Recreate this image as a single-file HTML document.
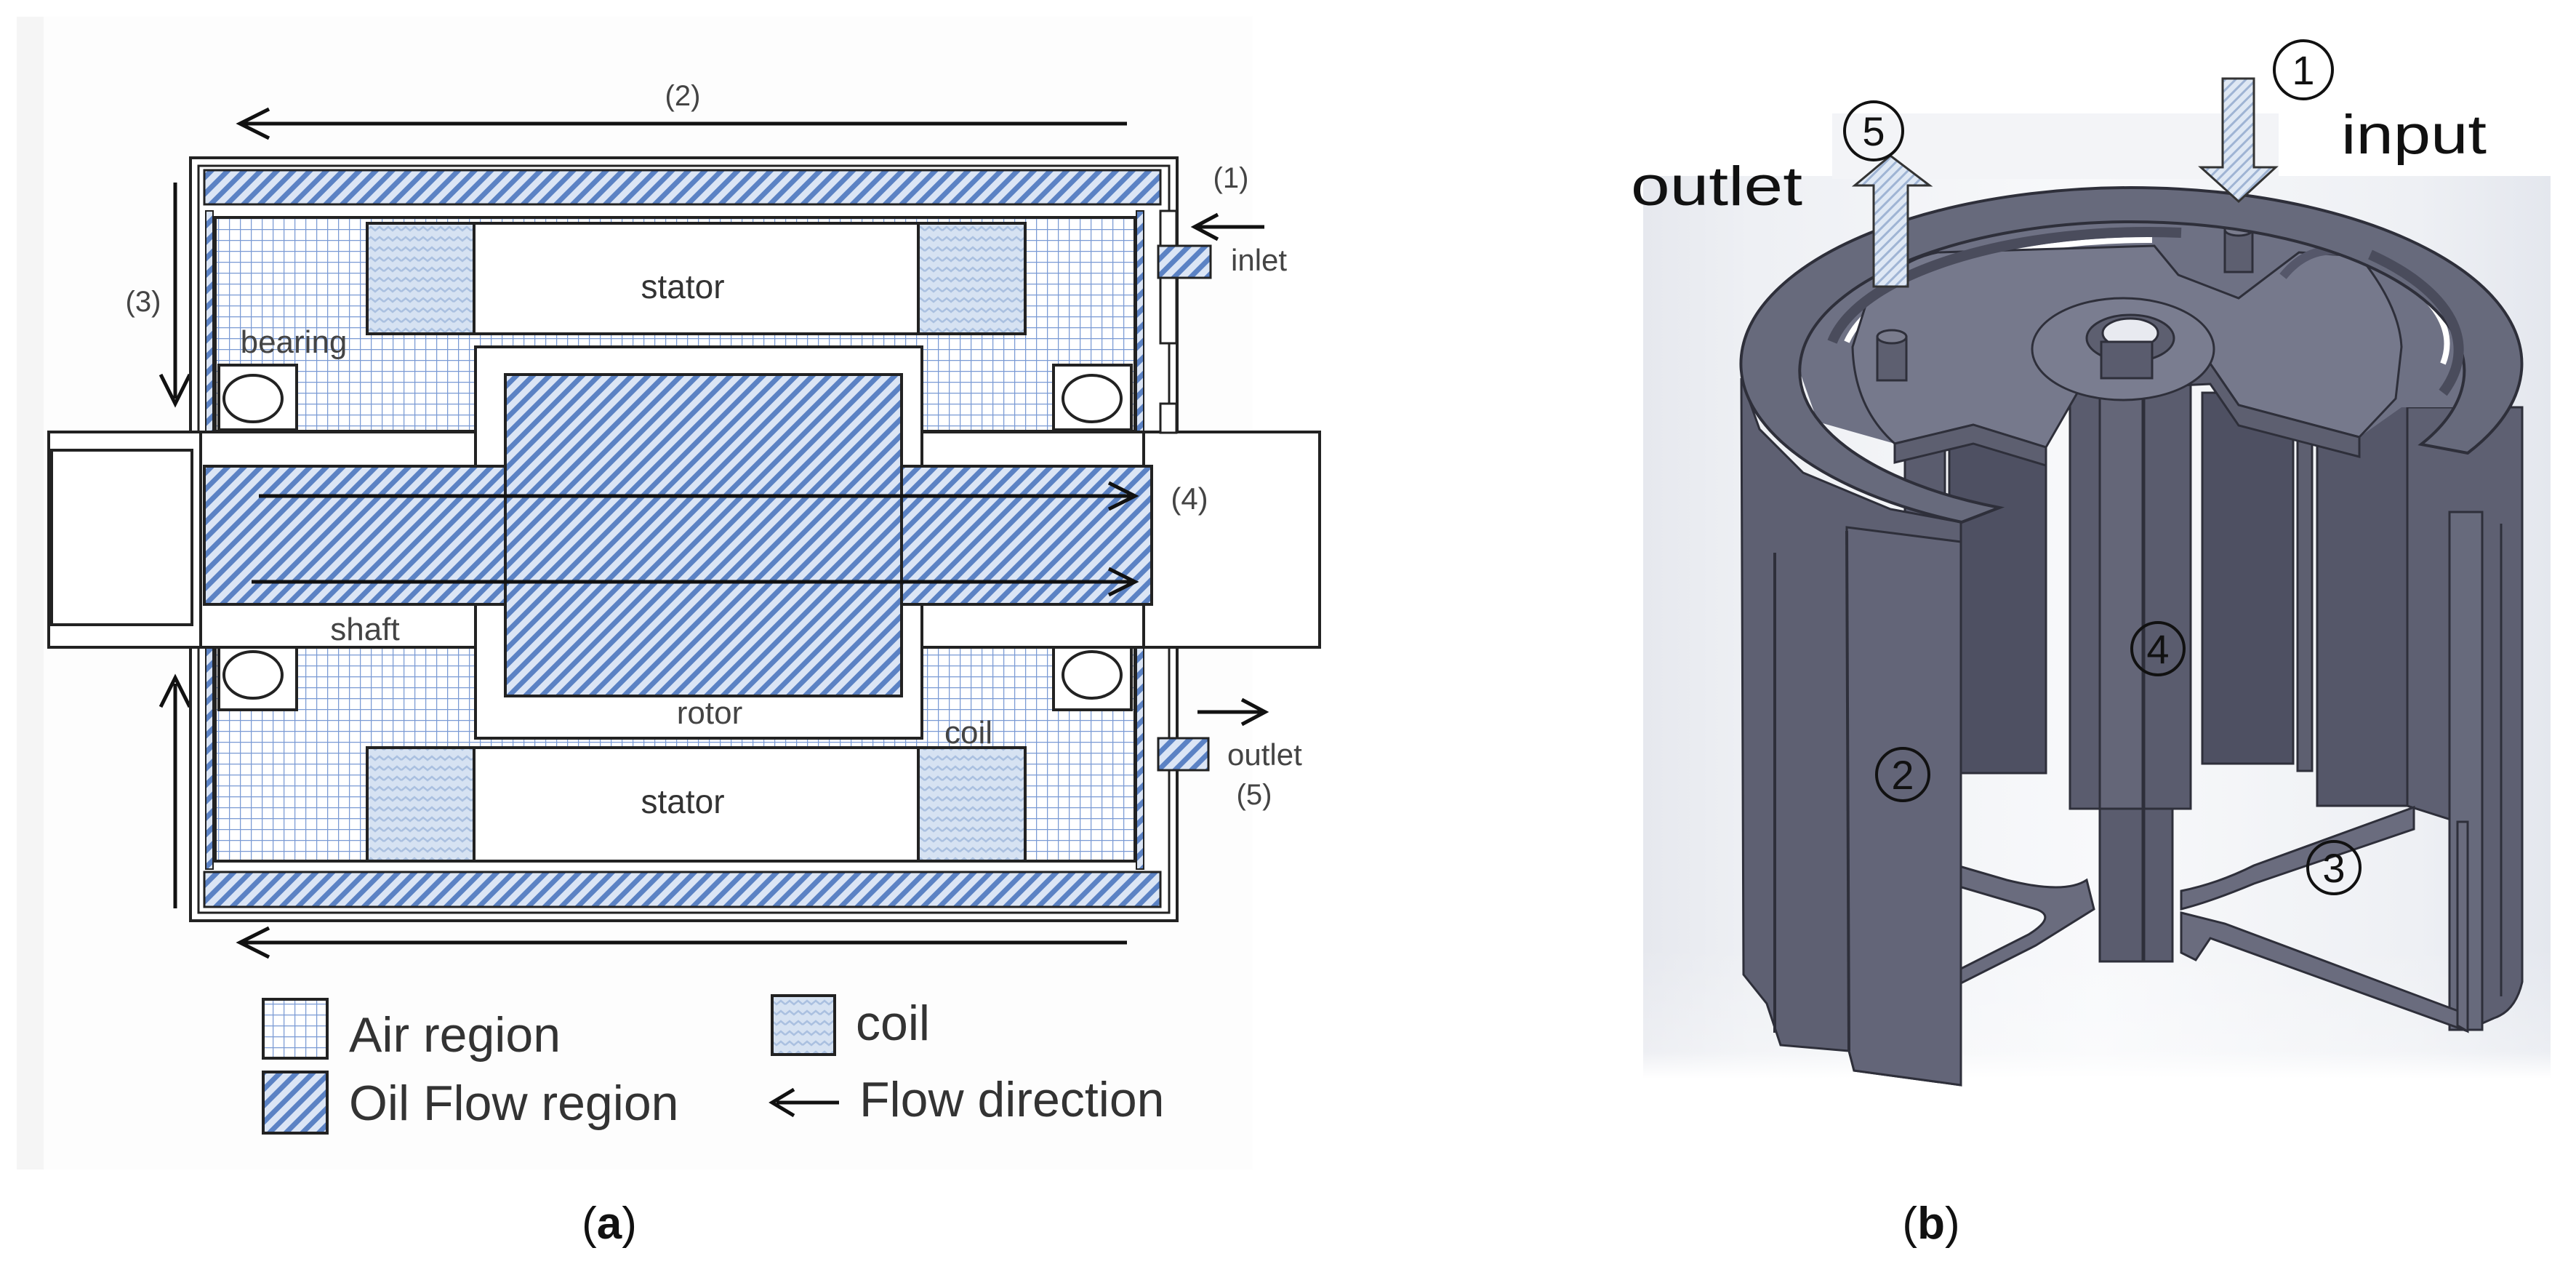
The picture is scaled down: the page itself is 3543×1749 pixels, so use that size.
<!DOCTYPE html>
<html><head><meta charset="utf-8"><style>
html,body{margin:0;padding:0;background:#fff;}
svg{display:block;}
text{font-family:"Liberation Sans","DejaVu Sans",sans-serif;}
</style></head><body>
<svg width="3543" height="1749" viewBox="0 0 3543 1749" xmlns="http://www.w3.org/2000/svg">
<defs>
<pattern id="hatch" width="16" height="16" patternUnits="userSpaceOnUse" patternTransform="rotate(45)">
<rect width="16" height="16" fill="#dbe5f5"/><rect width="7" height="16" fill="#5b82c4"/>
</pattern>
<pattern id="ahatch" width="10" height="10" patternUnits="userSpaceOnUse" patternTransform="rotate(45)">
<rect width="10" height="10" fill="#dfe8f4"/><rect width="3" height="10" fill="#9fb4d4"/>
</pattern>
<pattern id="grid" width="15" height="15" patternUnits="userSpaceOnUse">
<rect width="15" height="15" fill="#fff"/><path d="M0 0H15M0 0V15" stroke="#7a9ad4" stroke-width="2.5" fill="none"/>
</pattern>
<pattern id="wave" width="24" height="14" patternUnits="userSpaceOnUse">
<rect width="24" height="14" fill="#d6e2f2"/><path d="M0 9 L6 4 L12 9 L18 4 L24 9" stroke="#aac0e0" stroke-width="2.5" fill="none"/>
</pattern>
<linearGradient id="bgb" x1="0" x2="1"><stop offset="0" stop-color="#e6e8ee"/><stop offset="0.12" stop-color="#eef0f4"/><stop offset="0.5" stop-color="#f8f9fb"/><stop offset="0.85" stop-color="#eef0f4"/><stop offset="1" stop-color="#e4e7ee"/></linearGradient>
<linearGradient id="bgv" x1="0" y1="0" x2="0" y2="1"><stop offset="0" stop-color="#fff" stop-opacity="0"/><stop offset="0.8" stop-color="#fff" stop-opacity="0.3"/><stop offset="1" stop-color="#fff" stop-opacity="1"/></linearGradient>
</defs>

<rect x="23" y="23" width="1700" height="1585" fill="#f5f5f5"/>
<rect x="60" y="23" width="1663" height="1585" fill="#fdfdfd"/>

<g stroke="#111" stroke-width="5" fill="none">
<line x1="1550" y1="170" x2="335" y2="170"/><path d="M370 150 L330 170 L370 190"/>
<line x1="1550" y1="1296" x2="335" y2="1296"/><path d="M370 1276 L330 1296 L370 1316"/>
<line x1="241" y1="251" x2="241" y2="548"/><path d="M221 515 L241 555 L261 515"/>
<line x1="241" y1="1249" x2="241" y2="940"/><path d="M221 972 L241 932 L261 972"/>
</g>
<text x="939" y="145" font-size="40" fill="#444" text-anchor="middle">(2)</text>
<text x="197" y="428" font-size="40" fill="#444" text-anchor="middle">(3)</text>

<rect x="262" y="217" width="1357" height="1049" fill="#fff" stroke="#222" stroke-width="4"/>
<rect x="273" y="228" width="1335" height="1027" fill="#fff" stroke="#222" stroke-width="3"/>
<rect x="281" y="234" width="1315" height="47" fill="url(#hatch)" stroke="#222" stroke-width="3"/>
<rect x="281" y="1199" width="1315" height="48" fill="url(#hatch)" stroke="#222" stroke-width="3"/>
<rect x="296" y="299" width="1265" height="294" fill="url(#grid)" stroke="#222" stroke-width="4"/>
<rect x="296" y="890" width="1265" height="294" fill="url(#grid)" stroke="#222" stroke-width="4"/>
<rect x="283" y="290" width="10" height="905" fill="url(#hatch)" stroke="#222" stroke-width="2"/>
<rect x="1563" y="290" width="10" height="905" fill="url(#hatch)" stroke="#222" stroke-width="2"/>
<rect x="505" y="307" width="905" height="152" fill="#fff" stroke="#222" stroke-width="4"/>
<rect x="505" y="1028" width="905" height="156" fill="#fff" stroke="#222" stroke-width="4"/>
<rect x="505" y="307" width="147" height="152" fill="url(#wave)" stroke="#222" stroke-width="4"/>
<rect x="1263" y="307" width="147" height="152" fill="url(#wave)" stroke="#222" stroke-width="4"/>
<rect x="505" y="1028" width="147" height="156" fill="url(#wave)" stroke="#222" stroke-width="4"/>
<rect x="1263" y="1028" width="147" height="156" fill="url(#wave)" stroke="#222" stroke-width="4"/>
<text x="939" y="410" font-size="46" fill="#333" text-anchor="middle">stator</text>
<text x="939" y="1118" font-size="46" fill="#333" text-anchor="middle">stator</text>
<rect x="67" y="594" width="1748" height="296" fill="#fff" stroke="#222" stroke-width="4"/>
<rect x="71" y="619" width="193" height="240" fill="#fff" stroke="#222" stroke-width="4"/>
<line x1="276" y1="594" x2="276" y2="890" stroke="#222" stroke-width="4"/>
<line x1="1573" y1="594" x2="1573" y2="890" stroke="#222" stroke-width="4"/>
<rect x="654" y="477" width="614" height="538" fill="#fff" stroke="#222" stroke-width="4"/>
<rect x="281" y="641" width="1303" height="190" fill="url(#hatch)" stroke="#222" stroke-width="4"/>
<rect x="695" y="515" width="545" height="442" fill="url(#hatch)" stroke="#222" stroke-width="4"/>
<g stroke="#222" stroke-width="4" fill="#fff">
<rect x="301" y="502" width="107" height="89"/><ellipse cx="348" cy="548" rx="40" ry="32"/>
<rect x="1449" y="502" width="107" height="89"/><ellipse cx="1502" cy="548" rx="40" ry="32"/>
<rect x="301" y="890" width="107" height="86"/><ellipse cx="348" cy="928" rx="40" ry="32"/>
<rect x="1449" y="890" width="107" height="86"/><ellipse cx="1502" cy="928" rx="40" ry="32"/>
</g>
<text x="404" y="485" font-size="44" fill="#444" text-anchor="middle">bearing</text>
<text x="502" y="880" font-size="44" fill="#444" text-anchor="middle">shaft</text>
<text x="976" y="995" font-size="44" fill="#444" text-anchor="middle">rotor</text>
<text x="1332" y="1022" font-size="44" fill="#444" text-anchor="middle">coil</text>
<g stroke="#111" stroke-width="5" fill="none">
<line x1="356" y1="682" x2="1555" y2="682"/><path d="M1525 664 L1561 682 L1525 700"/>
<line x1="346" y1="800" x2="1555" y2="800"/><path d="M1525 782 L1561 800 L1525 818"/>
</g>
<text x="1636" y="700" font-size="42" fill="#444" text-anchor="middle">(4)</text>
<rect x="1596" y="290" width="22" height="182" fill="#fff" stroke="#222" stroke-width="3"/>
<rect x="1596" y="555" width="22" height="40" fill="#fff" stroke="#222" stroke-width="3"/>
<rect x="1593" y="338" width="72" height="44" fill="url(#hatch)" stroke="#222" stroke-width="3"/>
<rect x="1593" y="1015" width="69" height="44" fill="url(#hatch)" stroke="#222" stroke-width="3"/>
<text x="1693" y="258" font-size="40" fill="#444" text-anchor="middle">(1)</text>
<g stroke="#111" stroke-width="5" fill="none">
<line x1="1739" y1="312" x2="1648" y2="312"/><path d="M1675 295 L1643 312 L1675 329"/>
<line x1="1647" y1="979" x2="1735" y2="979"/><path d="M1708 962 L1740 979 L1708 996"/>
</g>
<text x="1693" y="372" font-size="42" fill="#444">inlet</text>
<text x="1688" y="1052" font-size="42" fill="#444">outlet</text>
<text x="1725" y="1106" font-size="40" fill="#444" text-anchor="middle">(5)</text>
<rect x="362" y="1374" width="88" height="81" fill="url(#grid)" stroke="#222" stroke-width="4"/>
<rect x="362" y="1474" width="88" height="84" fill="url(#hatch)" stroke="#222" stroke-width="4"/>
<rect x="1062" y="1369" width="86" height="81" fill="url(#wave)" stroke="#222" stroke-width="4"/>
<text x="480" y="1446" font-size="68" fill="#333">Air region</text>
<text x="480" y="1540" font-size="68" fill="#333">Oil Flow region</text>
<text x="1177" y="1430" font-size="68" fill="#333">coil</text>
<g stroke="#111" stroke-width="5" fill="none"><line x1="1154" y1="1516" x2="1068" y2="1516"/><path d="M1092 1498 L1062 1516 L1092 1534"/></g>
<text x="1182" y="1535" font-size="68" fill="#333">Flow direction</text>
<text x="838" y="1703" font-size="62" fill="#111" font-family="Liberation Serif,serif" text-anchor="middle">(<tspan font-weight="bold">a</tspan>)</text>

<!-- panel b -->
<rect x="2260" y="242" width="1248" height="1241" fill="url(#bgb)"/>
<rect x="2520" y="156" width="614" height="90" fill="#f3f4f7"/>
<rect x="2260" y="1300" width="1248" height="183" fill="url(#bgv)"/>

<g stroke="#2e2f3a" stroke-width="3">
<rect x="2681" y="560" width="133" height="503" fill="#4e5062"/>
<rect x="3029" y="540" width="125" height="510" fill="#4e5062"/>
<rect x="3187" y="540" width="124" height="568" fill="#555769"/>
<rect x="3160" y="540" width="20" height="520" fill="#5d5f70"/>
<rect x="2620" y="560" width="55" height="480" fill="#5a5c6e"/>
<path d="M3311 560 L3469 560 L3469 1350 Q3460 1390 3430 1400 L3394 1416 L3380 1416 L3380 1130 L3311 1108 Z" fill="#5e6072"/>
<rect x="3369" y="704" width="45" height="712" fill="#676a7c"/>
<line x1="3440" y1="720" x2="3440" y2="1370" fill="none"/>
<path d="M2681 1187 L2760 1210 Q2840 1230 2870 1210 L2880 1250 Q2840 1275 2800 1300 L2681 1360 L2681 1340 L2790 1285 Q2830 1260 2800 1250 L2681 1215 Z" fill="#6a6c7e"/>
<path d="M3320 1110 L3320 1140 L3100 1215 Q3040 1240 3000 1250 L3000 1225 Q3050 1215 3100 1190 Z" fill="#6a6c7e"/>
<path d="M3000 1255 L3060 1270 L3394 1395 L3394 1418 L3040 1290 L3020 1320 L3000 1310 Z" fill="#6a6c7e"/>
<path d="M3380 1130 L3394 1130 L3394 1418 L3380 1410 Z" fill="#6a6c7e"/>
<rect x="2847" y="470" width="166" height="642" fill="#5a5c6e"/>
<rect x="2888" y="470" width="60" height="852" fill="#646678"/>
<rect x="2888" y="1112" width="100" height="210" fill="#5a5c6e"/>
<line x1="2948" y1="470" x2="2948" y2="1322" stroke-width="5"/>
<!-- interior fill under ring -->
<path d="M2475 510 A457 205 0 0 1 3389 510 L3380 560 L3303 560 L3245 601 L3079 557 L3040 500 L2996 503 L2930 490 L2863 530 L2814 615 L2714 584 L2681 592 L2606 610 L2500 580 Z" fill="#6e7184" stroke="none"/>
<path d="M2540 470 A420 170 0 0 1 2960 330" fill="none" stroke="#fff" stroke-width="8"/>
<path d="M3280 370 A420 170 0 0 1 3360 500" fill="none" stroke="#fff" stroke-width="8"/>
<path d="M2565 423 Q2600 360 2665 347 L2963 338 L2996 378 L3079 410 L3162 347 L3245 352 Q3300 420 3303 477 L3295 548 L3245 601 L3079 557 L3040 500 L2996 503 L2930 490 L2863 530 L2814 615 L2714 584 L2681 592 L2606 610 Q2550 560 2548 477 Z" fill="#76798c"/>
<path d="M2606 610 L2681 592 L2714 584 L2814 615 L2814 640 L2714 610 L2681 618 L2606 636 Z" fill="#5d5f70"/>
<path d="M2996 503 L3040 500 L3079 557 L3245 601 L3245 628 L3079 585 L3040 528 L2996 530 Z" fill="#5d5f70"/>
<ellipse cx="2920" cy="480" rx="125" ry="70" fill="#7a7d90"/>
<ellipse cx="2930" cy="465" rx="60" ry="32" fill="#5d5f70"/>
<ellipse cx="2930" cy="458" rx="38" ry="20" fill="#e8eaf0"/>
<path d="M2890 470 L2960 470 L2960 520 L2890 520 Z" fill="#5a5c6e"/>
<path d="M3140 380 Q3180 330 3240 350" fill="none" stroke-width="12" stroke="#55576a"/>
<rect x="2582" y="463" width="40" height="60" fill="#5d5f70"/><ellipse cx="2602" cy="463" rx="20" ry="9" fill="#7a7c8d"/>
<rect x="3060" y="316" width="38" height="58" fill="#5d5f70"/><ellipse cx="3079" cy="316" rx="19" ry="8" fill="#7a7c8d"/>
<path d="M2395 520 L2398 1340 L2430 1380 L2449 1437 L2543 1445 L2550 1472 L2697 1492 L2697 718 L2600 700 L2480 650 L2420 590 Z" fill="#5e6072"/>
<path d="M2540 725 L2697 745 L2697 1492 L2550 1472 L2543 1445 Z" fill="#636578"/>
<line x1="2441" y1="760" x2="2441" y2="1420" fill="none" stroke-width="4"/>
<line x1="2540" y1="730" x2="2543" y2="1445" fill="none" stroke-width="4"/>
<path d="M2698 718 A537 242 0 1 1 3394 623 L3330 611 A457 205 0 1 0 2750 698 Z" fill="#676a7c" stroke-width="4"/>
<path d="M2520 470 A440 180 0 0 1 3000 320" fill="none" stroke="#4a4c5c" stroke-width="14"/>
<path d="M3260 350 A440 190 0 0 1 3360 540" fill="none" stroke="#4a4c5c" stroke-width="14"/>
</g>

<path d="M2577 394 L2577 255 L2551 255 L2600 214 L2654 255 L2624 255 L2624 394 Z" fill="url(#ahatch)" stroke="#333" stroke-width="3"/>
<path d="M3057 108 L3100 108 L3100 230 L3130 230 L3079 277 L3027 230 L3057 230 Z" fill="url(#ahatch)" stroke="#333" stroke-width="3"/>
<text x="2243" y="282" font-size="76" fill="#111" textLength="236" lengthAdjust="spacingAndGlyphs">outlet</text>
<text x="3220" y="211" font-size="76" fill="#111" textLength="200" lengthAdjust="spacingAndGlyphs">input</text>
<g fill="none" stroke="#111" stroke-width="4">
<circle cx="2577" cy="180" r="40"/><circle cx="3168" cy="96" r="40"/>
<circle cx="2968" cy="892" r="36"/><circle cx="2617" cy="1065" r="36"/><circle cx="3210" cy="1193" r="36"/>
</g>
<g font-size="56" fill="#111" text-anchor="middle">
<text x="2577" y="200">5</text><text x="3168" y="116">1</text>
<text x="2968" y="912">4</text><text x="2617" y="1085">2</text><text x="3210" y="1213">3</text>
</g>
<text x="2656" y="1703" font-size="62" fill="#111" font-family="Liberation Serif,serif" text-anchor="middle">(<tspan font-weight="bold">b</tspan>)</text>
</svg>
</body></html>
